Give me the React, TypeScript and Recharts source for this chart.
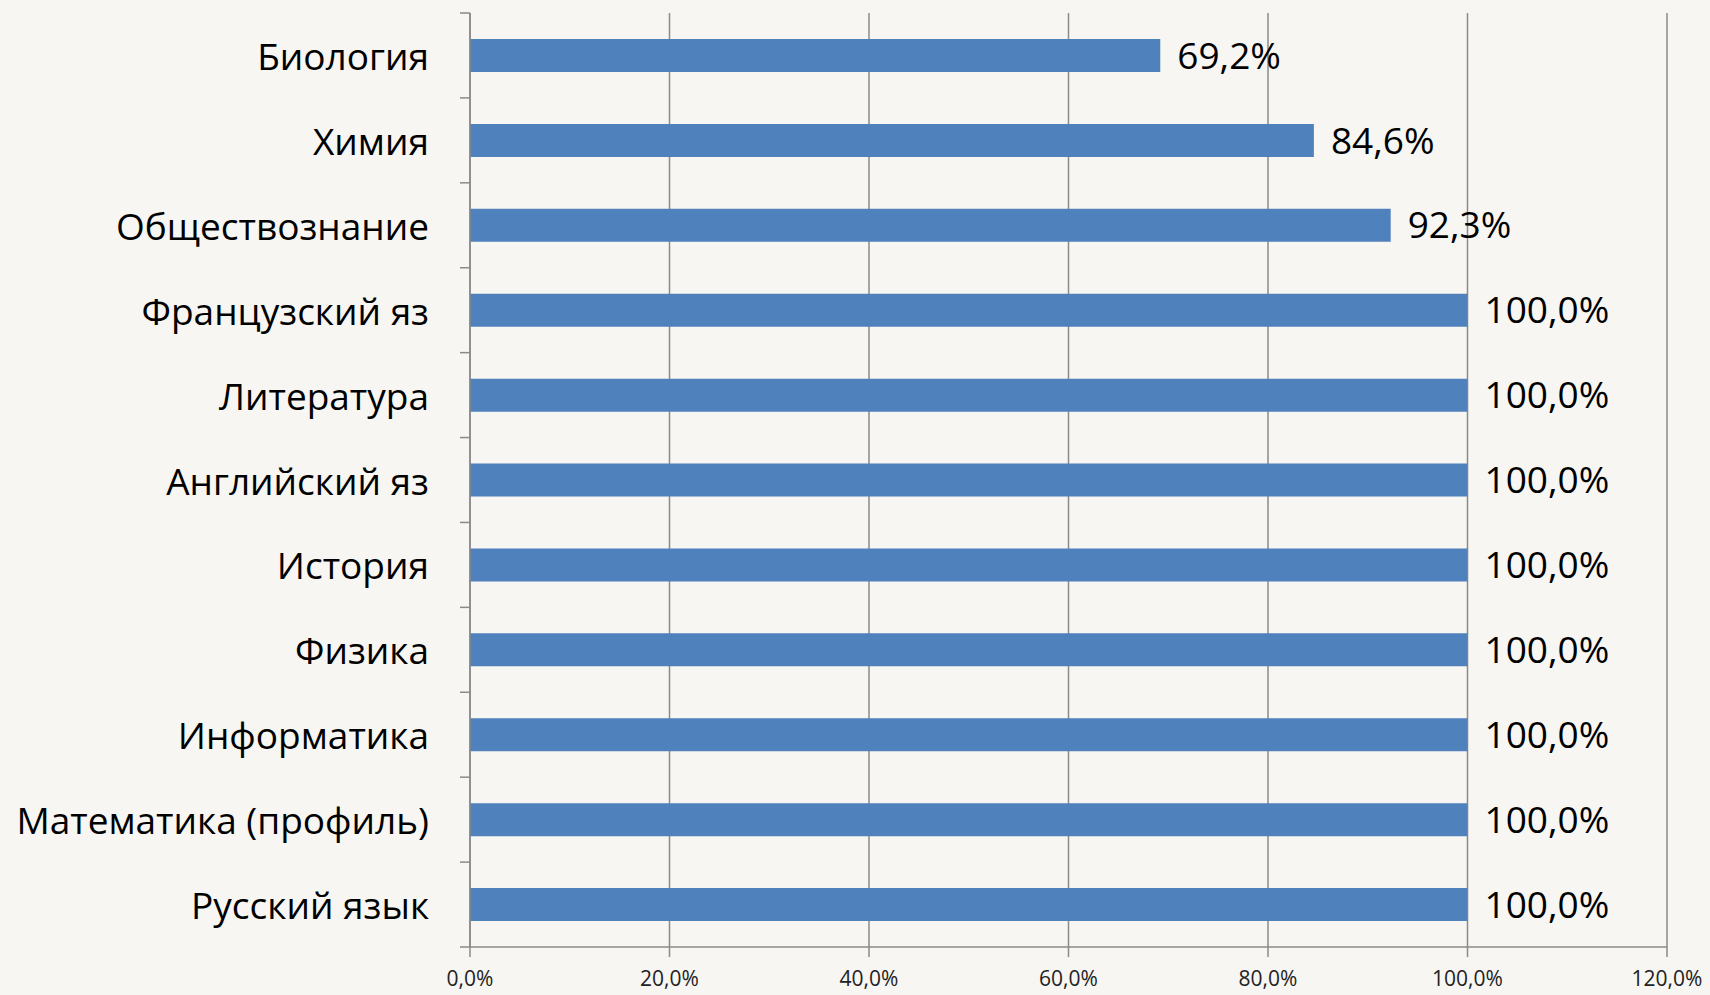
import { BarChart, Bar, XAxis, YAxis, CartesianGrid, LabelList } from 'recharts';

const subjects = [
  'Биология',
  'Химия',
  'Обществознание',
  'Французский яз',
  'Литература',
  'Английский яз',
  'История',
  'Физика',
  'Информатика',
  'Математика (профиль)',
  'Русский язык',
];

const shares = [0.692, 0.846, 0.923, 1, 1, 1, 1, 1, 1, 1, 1];

const xTicks = [0, 0.2, 0.4, 0.6, 0.8, 1, 1.2];

const data = subjects.map((name, i) => ({ name, value: shares[i] }));

const W = 1710;
const H = 995;
const AXIS_X = 470;
const TOP = 13;
const BOTTOM_AXIS = 48;
const PLOT_H = H - TOP - BOTTOM_AXIS;
const BAND = PLOT_H / subjects.length;
const GRID = '#8a8a8a';
const FONT = '"Open Sans", sans-serif';

const pct = (v: number) => (v * 100).toFixed(1).replace('.', ',') + '%';

function SubjectTick({ y, payload, index }: any) {
  const top = y - BAND / 2;
  return (
    <g>
      <line x1={AXIS_X - 10} x2={AXIS_X} y1={top} y2={top} stroke={GRID} strokeWidth={1.5} />
      <text
        x={AXIS_X - 41}
        y={y}
        textAnchor="end"
        dominantBaseline="central"
        fontFamily={FONT}
        fontSize={37}
        fill="#000"
      >
        {payload.value}
      </text>
      {index === subjects.length - 1 && (
        <line x1={AXIS_X - 10} x2={AXIS_X} y1={y + BAND / 2} y2={y + BAND / 2} stroke={GRID} strokeWidth={1.5} />
      )}
    </g>
  );
}

export default function App() {
  return (
    <div style={{ position: 'fixed', left: 0, top: 0, width: W, height: H, background: '#f7f6f2' }}>
      <BarChart
        width={W}
        height={H}
        data={data}
        layout="vertical"
        margin={{ top: TOP, right: 43, bottom: 0, left: 0 }}
      >
        <CartesianGrid horizontal={false} stroke={GRID} strokeWidth={1.5} />
        <XAxis
          type="number"
          domain={[0, 1.2]}
          ticks={xTicks}
          tickFormatter={pct}
          height={BOTTOM_AXIS}
          stroke={GRID}
          strokeWidth={1.5}
          tickSize={10}
          tickMargin={14}
          tick={{ fontFamily: FONT, fontSize: 21, fill: '#222' }}
        />
        <YAxis
          type="category"
          dataKey="name"
          width={AXIS_X}
          stroke={GRID}
          strokeWidth={1.5}
          tickLine={false}
          tick={<SubjectTick />}
          interval={0}
        />
        <Bar dataKey="value" fill="#4f81bd" barSize={33} isAnimationActive={false}>
          <LabelList
            dataKey="value"
            position="right"
            offset={17}
            formatter={(v: any) => pct(Number(v))}
            style={{ fontFamily: FONT, fontSize: 37, fill: '#000' }}
          />
        </Bar>
      </BarChart>
    </div>
  );
}
